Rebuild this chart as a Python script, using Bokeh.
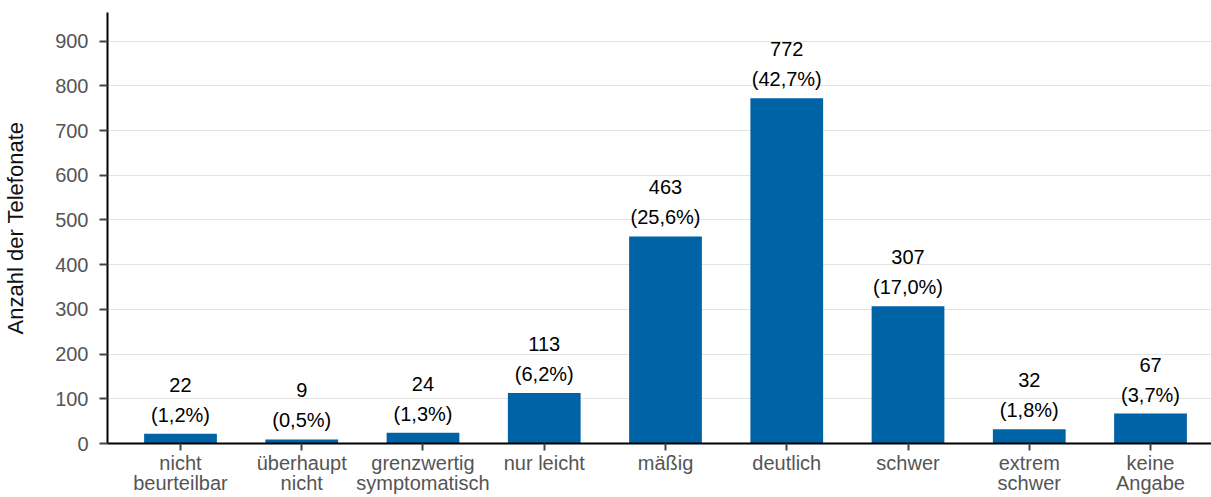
from bokeh.plotting import figure
from bokeh.models import Range1d, FixedTicker, ColumnDataSource
from bokeh.core.properties import value
from bokeh.embed import file_html
from bokeh.resources import INLINE

categories = ["nicht\nbeurteilbar", "überhaupt\nnicht", "grenzwertig\nsymptomatisch",
              "nur leicht", "mäßig", "deutlich", "schwer", "extrem\nschwer", "keine\nAngabe"]
counts = [22, 9, 24, 113, 463, 772, 307, 32, 67]
percent_labels = ["(1,2%)", "(0,5%)", "(1,3%)", "(6,2%)", "(25,6%)", "(42,7%)",
                  "(17,0%)", "(1,8%)", "(3,7%)"]
y_ticks = [0, 100, 200, 300, 400, 500, 600, 700, 800, 900]

FONT = "Liberation Sans"
BAR_COLOR = "#0063A6"

xs = list(range(len(categories)))
src = ColumnDataSource(dict(
    x=xs,
    top=counts,
    count_text=[str(c) for c in counts],
    pct_text=percent_labels,
))

p = figure(width=1211, height=497, output_backend="svg", toolbar_location=None,
           x_range=Range1d(-0.602, 8.503), y_range=Range1d(0, 964),
           min_border_left=107, min_border_right=0, min_border_top=12,
           min_border_bottom=51)
p.outline_line_color = None
p.background_fill_color = "white"
p.border_fill_color = "white"

p.vbar(x="x", top="top", width=0.6, source=src, fill_color=BAR_COLOR,
       line_color=None)

p.text(x="x", y="top", text="count_text", source=src, y_offset=-49,
       text_align="center", text_baseline="middle",
       text_font=value(FONT), text_font_size="20px", text_color="black")
p.text(x="x", y="top", text="pct_text", source=src, y_offset=-19,
       text_align="center", text_baseline="middle",
       text_font=value(FONT), text_font_size="20px", text_color="black")

# grid
p.xgrid.grid_line_color = None
p.ygrid.ticker = FixedTicker(ticks=y_ticks)
p.ygrid.grid_line_color = "#e3e3e3"
p.ygrid.grid_line_width = 1

# y axis
ya = p.yaxis[0]
ya.ticker = FixedTicker(ticks=y_ticks)
ya.axis_label = "Anzahl der Telefonate"
ya.axis_label_text_font = FONT
ya.axis_label_text_font_size = "22px"
ya.axis_label_text_font_style = "normal"
ya.axis_label_text_color = "#111111"
ya.axis_label_standoff = 24
ya.major_label_text_font = FONT
ya.major_label_text_font_size = "20px"
ya.major_label_text_color = "#555555"
ya.major_label_standoff = 11
ya.axis_line_color = "black"
ya.axis_line_width = 2
ya.major_tick_line_color = "#444444"
ya.major_tick_line_width = 2
ya.major_tick_in = 0
ya.major_tick_out = 8
ya.minor_tick_line_color = None

# x axis
xa = p.xaxis[0]
xa.ticker = FixedTicker(ticks=xs)
xa.major_label_overrides = {i: c for i, c in zip(xs, categories)}
xa.major_label_text_font = FONT
xa.major_label_text_font_size = "20px"
xa.major_label_text_line_height = 0.94
xa.major_label_text_color = "#555555"
xa.major_label_standoff = 1
xa.axis_line_color = "black"
xa.axis_line_width = 2
xa.major_tick_line_color = "#444444"
xa.major_tick_line_width = 2
xa.major_tick_in = 0
xa.major_tick_out = 7
xa.minor_tick_line_color = None

open("out.html", "w").write(file_html(p, INLINE))
